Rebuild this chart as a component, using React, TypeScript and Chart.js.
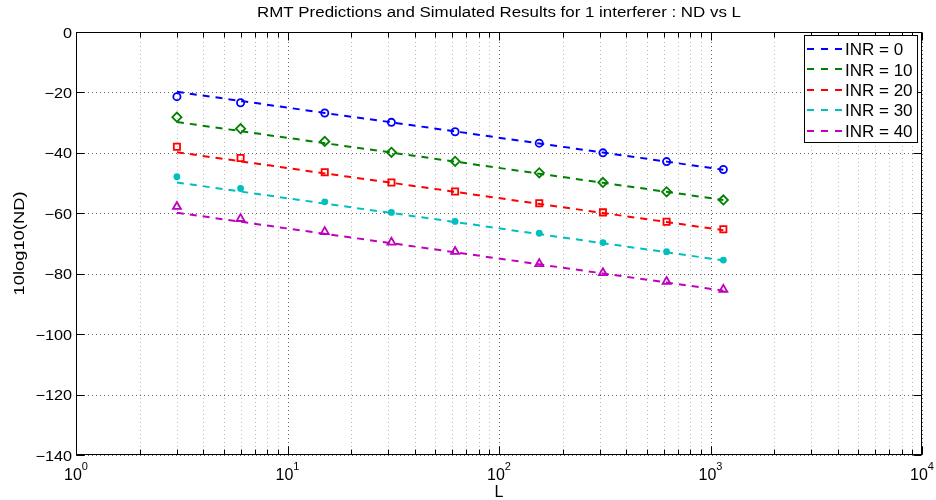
import { useEffect, useRef } from 'react';
import { Chart, registerables } from 'chart.js';

Chart.register(...registerables);

// ---------- data ----------
const L_VALUES = [3, 6, 15, 31, 62, 155, 310, 620, 1150];
const INR_LABELS = ['INR = 0', 'INR = 10', 'INR = 20', 'INR = 30', 'INR = 40'];

const PRED_INR0 = [-19.8, -22.8, -26.8, -29.9, -32.9, -36.9, -39.9, -42.9, -45.6];
const PRED_INR10 = [-29.8, -32.8, -36.8, -39.9, -42.9, -46.9, -49.9, -52.9, -55.6];
const PRED_INR20 = [-39.8, -42.8, -46.8, -49.9, -52.9, -56.9, -59.9, -62.9, -65.6];
const PRED_INR30 = [-49.8, -52.8, -56.8, -59.9, -62.9, -66.9, -69.9, -72.9, -75.6];
const PRED_INR40 = [-59.8, -62.8, -66.8, -69.9, -72.9, -76.9, -79.9, -82.9, -85.6];

const SIM_INR0 = [-21.4, -23.4, -26.8, -29.9, -33.0, -36.8, -40.0, -42.9, -45.5];
const SIM_INR10 = [-28.2, -32.0, -36.2, -39.8, -42.8, -46.6, -49.8, -52.9, -55.6];
const SIM_INR20 = [-38.0, -41.7, -46.4, -49.8, -52.8, -56.7, -59.7, -62.8, -65.3];
const SIM_INR30 = [-47.9, -51.8, -56.2, -59.7, -62.7, -66.6, -69.7, -72.7, -75.5];
const SIM_INR40 = [-57.8, -61.8, -66.1, -69.6, -72.7, -76.7, -79.7, -82.6, -85.2];

const Y_TICKS = [0, -20, -40, -60, -80, -100, -120, -140];
const X_MAJOR = [1, 10, 100, 1000, 10000];
const X_EXP = ['0', '1', '2', '3', '4'];

const TITLE = 'RMT Predictions and Simulated Results for 1 interferer : ND vs L';
const X_LABEL = 'L';
const Y_LABEL = '10log10(ND)';

// ---------- styles ----------
const COLORS = ['#0000ff', '#008000', '#ff0000', '#00bfbf', '#bf00bf'];
const MARKERS = ['circle', 'rectRot', 'rect', 'circle', 'triangle'];
const MARKER_R = [3.6, 4.6, 4.4, 3.4, 4.6];
const MARKER_FILLED = [false, false, false, true, false];
const FONT = '"Liberation Sans", Arial, Helvetica, sans-serif';

const PRED = [PRED_INR0, PRED_INR10, PRED_INR20, PRED_INR30, PRED_INR40];
const SIM = [SIM_INR0, SIM_INR10, SIM_INR20, SIM_INR30, SIM_INR40];

const minorTicks: number[] = [];
for (let d = 0; d < 4; d++) {
  const base = X_MAJOR[d];
  for (let k = 2; k <= 9; k++) minorTicks.push(base * k);
}

function drawStretched(ctx: CanvasRenderingContext2D, text: string, x: number, y: number, align: CanvasTextAlign, sx: number) {
  ctx.save();
  ctx.translate(x, y);
  ctx.scale(sx, 1);
  ctx.textAlign = align;
  ctx.textBaseline = 'alphabetic';
  ctx.fillText(text, 0, 0);
  ctx.restore();
}

const matlabPlugin = {
  id: 'matlabAxes',
  beforeDatasetsDraw(chart: any) {
    const { ctx, chartArea: a, scales } = chart;
    const x = scales.x;
    const y = scales.y;
    ctx.save();
    ctx.lineWidth = 1;
    ctx.setLineDash([1, 3]);
    // minor x grid
    ctx.strokeStyle = 'rgba(0,0,0,0.28)';
    minorTicks.forEach((v) => {
      const px = Math.round(x.getPixelForValue(v)) + 0.5;
      ctx.beginPath();
      ctx.moveTo(px, a.bottom);
      ctx.lineTo(px, a.top);
      ctx.stroke();
    });
    // major grid
    ctx.strokeStyle = 'rgba(0,0,0,0.6)';
    X_MAJOR.forEach((v) => {
      const px = Math.round(x.getPixelForValue(v)) + 0.5;
      ctx.beginPath();
      ctx.moveTo(px, a.bottom);
      ctx.lineTo(px, a.top);
      ctx.stroke();
    });
    Y_TICKS.forEach((v) => {
      const py = Math.round(y.getPixelForValue(v)) + 0.5;
      ctx.beginPath();
      ctx.moveTo(a.left, py);
      ctx.lineTo(a.right, py);
      ctx.stroke();
    });
    ctx.restore();
  },
  afterDraw(chart: any) {
    const { ctx, chartArea: a, scales } = chart;
    const x = scales.x;
    const y = scales.y;
    ctx.save();
    ctx.setLineDash([]);
    ctx.strokeStyle = '#000';
    ctx.lineWidth = 1;
    const L0 = Math.round(a.left) + 0.5;
    const R0 = Math.round(a.right) - 0.5;
    const T0 = Math.round(a.top) + 0.5;
    const B0 = Math.round(a.bottom) - 0.5;
    // ticks
    ctx.beginPath();
    const xTick = (v: number, len: number) => {
      const px = Math.round(x.getPixelForValue(v)) + 0.5;
      ctx.moveTo(px, B0);
      ctx.lineTo(px, B0 - len);
      ctx.moveTo(px, T0);
      ctx.lineTo(px, T0 + len);
    };
    minorTicks.forEach((v) => xTick(v, 5));
    X_MAJOR.forEach((v) => xTick(v, 8));
    Y_TICKS.forEach((v) => {
      const py = Math.round(y.getPixelForValue(v)) + 0.5;
      ctx.moveTo(L0, py);
      ctx.lineTo(L0 + 8, py);
      ctx.moveTo(R0, py);
      ctx.lineTo(R0 - 8, py);
    });
    ctx.stroke();
    // box
    ctx.strokeRect(L0, T0, R0 - L0, B0 - T0);

    // legend
    const lx = 804.5, ly = 35.5, lw = 113, lh = 107;
    ctx.fillStyle = '#fff';
    ctx.fillRect(lx, ly, lw, lh);
    ctx.strokeStyle = '#000';
    ctx.strokeRect(lx, ly, lw, lh);
    ctx.font = '17px ' + FONT;
    INR_LABELS.forEach((lab, i) => {
      const ry = 49 + i * 20.4;
      ctx.save();
      ctx.strokeStyle = COLORS[i];
      ctx.lineWidth = 2;
      ctx.setLineDash([7, 7]);
      ctx.beginPath();
      ctx.moveTo(807, Math.round(ry));
      ctx.lineTo(842, Math.round(ry));
      ctx.stroke();
      ctx.restore();
      ctx.fillStyle = '#000';
      ctx.textAlign = 'left';
      ctx.textBaseline = 'alphabetic';
      ctx.fillText(lab, 845, ry + 6.2);
    });

    // title
    ctx.fillStyle = '#000';
    ctx.font = '14px ' + FONT;
    const tw = ctx.measureText(TITLE).width;
    drawStretched(ctx, TITLE, 499, 17.3, 'center', 484 / tw);

    // y tick labels
    ctx.font = '14px ' + FONT;
    Y_TICKS.forEach((v) => {
      const py = y.getPixelForValue(v);
      const s = v < 0 ? '\u2212' + Math.abs(v) : String(v);
      drawStretched(ctx, s, 72, py + 5.5, 'right', 1.16);
    });

    // x tick labels 10^n
    X_MAJOR.forEach((v, i) => {
      const px = x.getPixelForValue(v);
      ctx.font = '16px ' + FONT;
      const bw = ctx.measureText('10').width;
      ctx.font = '11px ' + FONT;
      const sw = ctx.measureText(X_EXP[i]).width;
      const start = px - (bw + sw) / 2;
      ctx.textAlign = 'left';
      ctx.textBaseline = 'alphabetic';
      ctx.font = '16px ' + FONT;
      ctx.fillText('10', start, 480);
      ctx.font = '11px ' + FONT;
      ctx.fillText(X_EXP[i], start + bw, 470);
    });

    // x label
    ctx.font = '16px ' + FONT;
    ctx.textAlign = 'center';
    ctx.fillText(X_LABEL, (a.left + a.right) / 2, 497);

    // y label
    ctx.font = '14px ' + FONT;
    const yw = ctx.measureText(Y_LABEL).width;
    ctx.save();
    ctx.translate(24, (a.top + a.bottom) / 2);
    ctx.rotate(-Math.PI / 2);
    ctx.scale(104 / yw, 1);
    ctx.textAlign = 'center';
    ctx.textBaseline = 'alphabetic';
    ctx.fillText(Y_LABEL, 0, 0);
    ctx.restore();

    ctx.restore();
  },
};

export default function App() {
  const canvasRef = useRef<HTMLCanvasElement | null>(null);

  useEffect(() => {
    if (!canvasRef.current) return;
    const datasets: any[] = [];
    PRED.forEach((vals, i) => {
      datasets.push({
        label: INR_LABELS[i],
        data: L_VALUES.map((l, j) => ({ x: l, y: vals[j] })),
        showLine: true,
        borderColor: COLORS[i],
        borderWidth: 2,
        borderDash: [7, 6],
        pointRadius: 0,
        fill: false,
      });
    });
    SIM.forEach((vals, i) => {
      datasets.push({
        label: INR_LABELS[i] + ' sim',
        data: L_VALUES.map((l, j) => ({ x: l, y: vals[j] })),
        showLine: false,
        pointStyle: MARKERS[i],
        pointRadius: MARKER_R[i],
        pointBorderWidth: MARKER_FILLED[i] ? 0 : 1.8,
        pointBorderColor: COLORS[i],
        pointBackgroundColor: MARKER_FILLED[i] ? COLORS[i] : 'rgba(0,0,0,0)',
      });
    });

    const chart = new Chart(canvasRef.current, {
      type: 'scatter',
      data: { datasets },
      options: {
        animation: false,
        responsive: true,
        maintainAspectRatio: false,
        layout: { padding: { left: 76, right: 14, top: 32, bottom: 45 } },
        plugins: {
          legend: { display: false },
          title: { display: false },
          tooltip: { enabled: false },
        },
        scales: {
          x: { type: 'logarithmic', min: 1, max: 10000, display: false },
          y: { type: 'linear', min: -140, max: 0, display: false },
        },
      } as any,
      plugins: [matlabPlugin],
    });
    return () => chart.destroy();
  }, []);

  return (
    <div style={{ position: 'absolute', left: 0, top: 0, width: 936, height: 500, background: '#fff' }}>
      <canvas ref={canvasRef} />
    </div>
  );
}
